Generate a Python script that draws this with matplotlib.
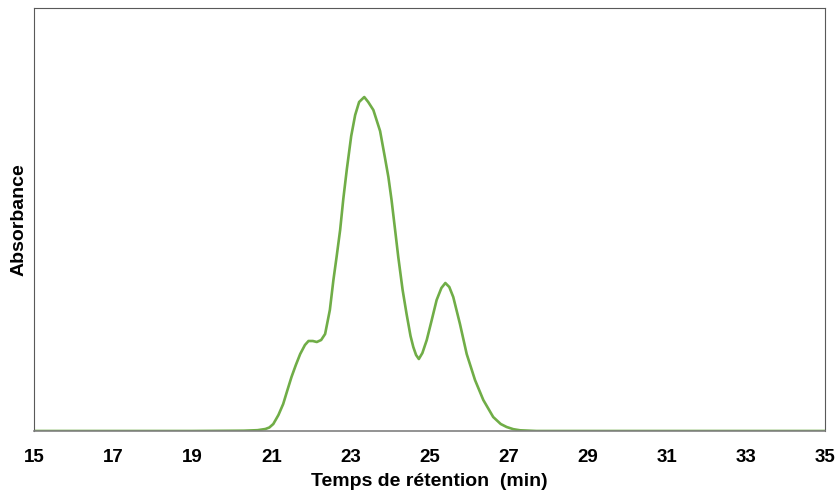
import matplotlib
matplotlib.use("Agg")
import matplotlib.pyplot as plt

# retention time (min) and absorbance (arbitrary units)
temps = [15, 19, 20.3, 20.65, 20.85, 20.95, 21.05, 21.18, 21.3, 21.4, 21.51, 21.62,
         21.73, 21.85, 21.94, 22.05, 22.15, 22.26, 22.36, 22.48, 22.57, 22.65, 22.74,
         22.82, 22.91, 23.02, 23.12, 23.22, 23.35, 23.45, 23.58, 23.75, 23.87, 23.96,
         24.04, 24.13, 24.21, 24.32, 24.42, 24.52, 24.59, 24.66, 24.73, 24.82, 24.93,
         25.05, 25.18, 25.30, 25.40, 25.50, 25.60, 25.77, 25.94, 26.15, 26.36, 26.61,
         26.8, 26.95, 27.12, 27.29, 27.7, 35]
absorbance = [0, 0, 0.3, 0.8, 2, 3.5, 7, 16, 27, 40, 54, 66,
              77, 86, 90, 90, 89, 91, 97, 121, 151, 174, 201,
              232, 262, 295, 316, 329, 334, 329, 321, 300, 274, 254,
              231, 201, 174, 141, 117, 95, 84, 76, 72, 78, 91,
              110, 131, 143, 148, 144, 134, 107, 77, 51, 31, 14,
              7, 4, 1.8, 0.7, 0, 0]
xticks = list(range(15, 36, 2))

plt.rcParams['font.family'] = ['Liberation Sans', 'DejaVu Sans']

fig = plt.figure(figsize=(8.38, 4.95), dpi=100)
ax = fig.add_axes([0.0406, 0.1293, 0.9439, 0.8545])

ax.plot(temps, absorbance, color='#70AD47', linewidth=1.9,
        solid_capstyle='round', solid_joinstyle='round')

ax.set_xlim(15, 35)
ax.set_ylim(0, 423)
ax.set_xticks(xticks)
ax.set_xticklabels([str(t) for t in xticks], fontsize=13.5, fontweight='bold')
ax.set_yticks([])
ax.tick_params(axis='x', length=0, pad=13)

for side in ['left', 'top', 'right']:
    ax.spines[side].set_color('#595959')
    ax.spines[side].set_linewidth(0.8)
ax.spines['bottom'].set_color('#808080')
ax.spines['bottom'].set_linewidth(1.2)

ax.set_xlabel('Temps de rétention  (min)', fontsize=14, fontweight='bold', labelpad=5)
ax.set_ylabel('Absorbance', fontsize=14, fontweight='bold', labelpad=5)

fig.savefig('out.png', dpi=100)
